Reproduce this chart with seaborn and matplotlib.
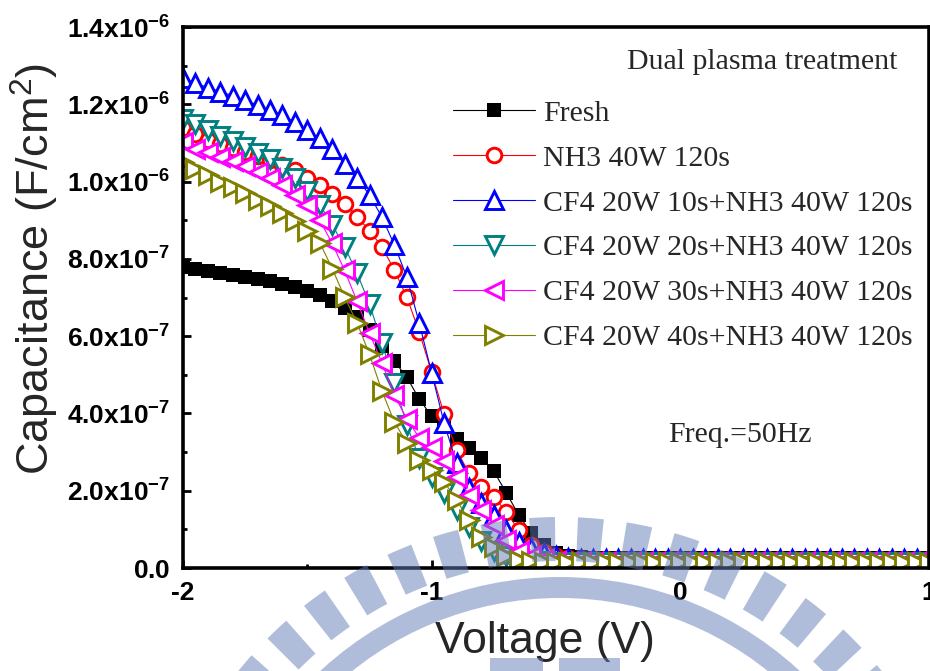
import numpy as np
import matplotlib
matplotlib.use("Agg")
import matplotlib.pyplot as plt
import seaborn as sns
from matplotlib.ticker import MultipleLocator, FixedLocator, FuncFormatter
from matplotlib.patches import Wedge, Rectangle
from matplotlib.transforms import IdentityTransform
from matplotlib.font_manager import FontProperties

# Gate-voltage sweep (V), 0.05 V steps
voltage = np.round(np.linspace(-2.0, 1.0, 61), 2)

# Capacitance density in units of 1e-6 F/cm^2
fresh = [0.778, 0.773, 0.768, 0.763, 0.758, 0.753, 0.748, 0.742, 0.735, 0.727,
         0.718, 0.706, 0.692, 0.674, 0.650, 0.615, 0.575, 0.535, 0.494, 0.437,
         0.393, 0.366, 0.333, 0.310, 0.285, 0.250, 0.195, 0.137, 0.091, 0.060,
         0.040, 0.032, 0.028, 0.027, 0.026, 0.026, 0.026, 0.025, 0.025, 0.025,
         0.025, 0.025, 0.025, 0.025, 0.025, 0.025, 0.025, 0.025, 0.025, 0.025,
         0.025, 0.025, 0.025, 0.025, 0.025, 0.025, 0.025, 0.025, 0.025, 0.025,
         0.025]
nh3 = [1.138, 1.122, 1.108, 1.097, 1.087, 1.077, 1.067, 1.056, 1.043, 1.030,
       1.008, 0.990, 0.968, 0.943, 0.909, 0.873, 0.831, 0.771, 0.701, 0.611,
       0.506, 0.398, 0.305, 0.246, 0.210, 0.184, 0.145, 0.098, 0.060, 0.041,
       0.030, 0.025, 0.023, 0.022, 0.022, 0.022, 0.022, 0.022, 0.022, 0.022,
       0.022, 0.022, 0.022, 0.022, 0.022, 0.022, 0.022, 0.022, 0.022, 0.022,
       0.022, 0.022, 0.022, 0.022, 0.022, 0.022, 0.022, 0.022, 0.022, 0.022,
       0.022]
cf4_10s = [1.268, 1.255, 1.243, 1.233, 1.222, 1.210, 1.198, 1.185, 1.172, 1.153,
           1.134, 1.112, 1.085, 1.045, 1.009, 0.965, 0.908, 0.836, 0.753, 0.634,
           0.505, 0.375, 0.272, 0.207, 0.168, 0.137, 0.098, 0.067, 0.052, 0.040,
           0.030, 0.025, 0.023, 0.022, 0.022, 0.022, 0.022, 0.022, 0.022, 0.022,
           0.022, 0.022, 0.022, 0.022, 0.022, 0.022, 0.022, 0.022, 0.022, 0.022,
           0.022, 0.022, 0.022, 0.022, 0.022, 0.022, 0.022, 0.022, 0.022, 0.022,
           0.022]
cf4_20s = [1.163, 1.150, 1.133, 1.118, 1.104, 1.090, 1.075, 1.058, 1.036, 1.010,
           0.975, 0.940, 0.888, 0.831, 0.763, 0.683, 0.582, 0.479, 0.370, 0.285,
           0.235, 0.195, 0.150, 0.105, 0.070, 0.045, 0.030, 0.022, 0.019, 0.017,
           0.016, 0.016, 0.016, 0.016, 0.016, 0.016, 0.016, 0.016, 0.016, 0.016,
           0.016, 0.016, 0.016, 0.016, 0.016, 0.016, 0.016, 0.016, 0.016, 0.016,
           0.016, 0.016, 0.016, 0.016, 0.016, 0.016, 0.016, 0.016, 0.016, 0.016,
           0.016]
cf4_30s = [1.103, 1.085, 1.076, 1.063, 1.052, 1.040, 1.025, 1.008, 0.990, 0.965,
           0.940, 0.900, 0.840, 0.770, 0.690, 0.608, 0.531, 0.447, 0.386, 0.337,
           0.313, 0.278, 0.235, 0.190, 0.150, 0.110, 0.072, 0.045, 0.030, 0.022,
           0.018, 0.016, 0.016, 0.016, 0.016, 0.016, 0.016, 0.016, 0.016, 0.016,
           0.016, 0.016, 0.016, 0.016, 0.016, 0.016, 0.016, 0.016, 0.016, 0.016,
           0.016, 0.016, 0.016, 0.016, 0.016, 0.016, 0.016, 0.016, 0.016, 0.016,
           0.016]
cf4_40s = [1.050, 1.033, 1.018, 1.000, 0.986, 0.970, 0.953, 0.936, 0.918, 0.898,
           0.872, 0.842, 0.775, 0.701, 0.634, 0.553, 0.458, 0.378, 0.323, 0.280,
           0.254, 0.223, 0.176, 0.124, 0.080, 0.054, 0.030, 0.020, 0.017, 0.016,
           0.016, 0.016, 0.016, 0.016, 0.016, 0.016, 0.016, 0.016, 0.016, 0.016,
           0.016, 0.016, 0.016, 0.016, 0.016, 0.016, 0.016, 0.016, 0.016, 0.016,
           0.016, 0.016, 0.016, 0.016, 0.016, 0.016, 0.016, 0.016, 0.016, 0.016,
           0.016]

labels = ["Fresh", "NH3 40W 120s",
          "CF4 20W 10s+NH3 40W 120s", "CF4 20W 20s+NH3 40W 120s",
          "CF4 20W 30s+NH3 40W 120s", "CF4 20W 40s+NH3 40W 120s"]
curves = [fresh, nh3, cf4_10s, cf4_20s, cf4_30s, cf4_40s]
colors = ["#000000", "#FF0000", "#0000FF", "#008080", "#FF00FF", "#808000"]
markers = ["s", "o", "^", "v", "<", ">"]
marker_sizes = [10.0, 10.5, 13.0, 13.0, 13.0, 13.0]

sns.set_theme(style="white")
plt.rcParams["font.family"] = ["Liberation Sans", "DejaVu Sans"]
plt.rcParams["mathtext.fontset"] = "custom"
plt.rcParams["mathtext.rm"] = "Liberation Sans"
plt.rcParams["mathtext.bf"] = "Liberation Sans:bold"
plt.rcParams["mathtext.it"] = "Liberation Sans:italic"

W, H = 930, 671
fig = plt.figure(figsize=(W / 100, H / 100), dpi=100)
fig.patch.set_facecolor("white")
ax = fig.add_axes([183 / W, (H - 568) / H, (929 - 183) / W, (568 - 27) / H])
ax.set_facecolor("white")

for vals, color, mk, ms in zip(curves, colors, markers, marker_sizes):
    filled = mk == "s"
    sns.lineplot(x=voltage, y=np.asarray(vals) * 1e-6, ax=ax, color=color,
                 marker=mk, ms=ms, mfc=color if filled else "white",
                 mec=color, mew=0 if filled else 2.1, lw=0.8)

ax.set_xlim(-2, 1)
ax.set_ylim(0, 1.4e-6)

# ticks
ax.xaxis.set_major_locator(FixedLocator([-2, -1, 0, 1]))
ax.xaxis.set_minor_locator(MultipleLocator(0.5))
ax.yaxis.set_major_locator(MultipleLocator(2e-7))
ax.yaxis.set_minor_locator(MultipleLocator(1e-7))


def sci_label(v, pos):
    if abs(v) < 1e-12:
        return r"$\mathbf{0.0}$"
    exp = int(np.floor(np.log10(abs(v)) + 1e-9))
    mant = v / 10 ** exp
    return rf"$\mathbf{{{mant:.1f}x10^{{{exp}}}}}$"


ax.yaxis.set_major_formatter(FuncFormatter(sci_label))
ax.xaxis.set_major_formatter(FuncFormatter(lambda v, p: f"{int(round(v))}"))

ax.tick_params(which="both", direction="in", width=2, colors="black",
               top=False, right=False, left=True, bottom=True)
ax.tick_params(which="major", length=6)
ax.tick_params(which="minor", length=3)
ax.tick_params(axis="y", which="major", pad=9, labelsize=19)
ax.tick_params(axis="x", which="major", pad=9, labelsize=19)
for t in ax.get_xticklabels():
    t.set_fontweight("bold")

for s in ax.spines.values():
    s.set_visible(True)
    s.set_linewidth(2.6)
    s.set_color("black")

# axis titles
ax.set_xlabel("Voltage (V)", fontsize=32)
ax.xaxis.set_label_coords(0.485, -0.135)
ax.xaxis.label.set_verticalalignment("center")
ax.set_ylabel(r"Capacitance (F/cm$\mathregular{^2}$)", fontsize=32.5)
ax.yaxis.set_label_coords(-0.198, 0.552)
ax.yaxis.label.set_verticalalignment("center")

serif = FontProperties(family="Liberation Serif", size=21.5)
ax.legend(handles=ax.lines[:6], labels=labels, loc="upper left",
          bbox_to_anchor=(0.362, 0.865), frameon=False, prop=serif,
          handlelength=2.74, handletextpad=0.27, labelspacing=0.60,
          borderpad=0, borderaxespad=0)

ax.text(0.595, 0.935, "Dual plasma treatment", transform=ax.transAxes,
        fontproperties=serif, ha="left", va="center")
ax.text(0.650, 0.246, "Freq.=50Hz", transform=ax.transAxes,
        fontproperties=serif, ha="left", va="center")

# translucent emblem along the bottom edge (pixel coordinates)
wm_color = (0.38, 0.49, 0.725)
wm_alpha = 0.5
pix = IdentityTransform()
cx, cy = 560, H - 930
for k in range(-8, 9):
    tc = 92.5 + 6.8 * k
    fig.add_artist(Wedge((cx, cy), 413, tc - 1.8, tc + 1.8, width=44,
                         transform=pix, facecolor=wm_color, edgecolor="none",
                         alpha=wm_alpha, zorder=10))
fig.add_artist(Wedge((cx, cy), 353, 0, 180, width=21, transform=pix,
                     facecolor=wm_color, edgecolor="none", alpha=wm_alpha,
                     zorder=10))
for x0, x1 in [(490, 543), (559, 620)]:
    fig.add_artist(Rectangle((x0, 0), x1 - x0, 13, transform=pix,
                             facecolor=wm_color, edgecolor="none",
                             alpha=wm_alpha, zorder=10))

fig.savefig("out.png", dpi=100)
